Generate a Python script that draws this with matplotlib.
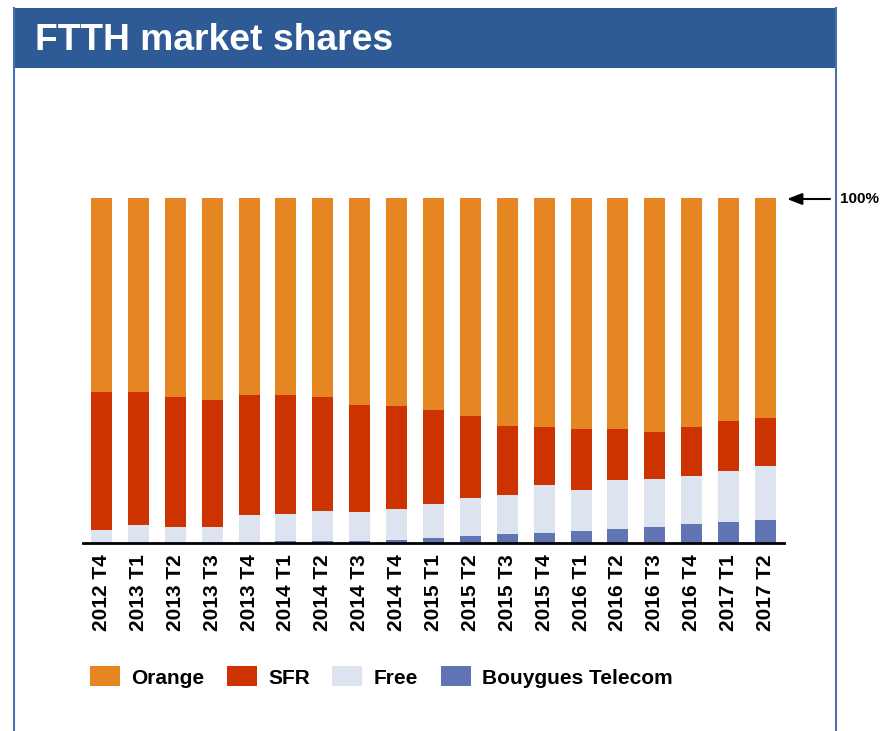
import matplotlib
matplotlib.use("Agg")
import matplotlib.pyplot as plt
from matplotlib.patches import Rectangle
from matplotlib.lines import Line2D
import numpy as np

plt.rcParams['font.family'] = ['Liberation Sans', 'DejaVu Sans']

categories = ["2012 T4", "2013 T1", "2013 T2", "2013 T3", "2013 T4",
              "2014 T1", "2014 T2", "2014 T3", "2014 T4", "2015 T1",
              "2015 T2", "2015 T3", "2015 T4", "2016 T1", "2016 T2",
              "2016 T3", "2016 T4", "2017 T1", "2017 T2"]
bouygues = [0.0, 0.0, 0.0, 0.0, 0.0, 0.5, 0.5, 0.5, 0.8, 1.4,
            1.9, 2.5, 2.8, 3.4, 4.0, 4.6, 5.4, 6.0, 6.6]
free = [3.7, 5.1, 4.6, 4.6, 8.0, 7.8, 8.7, 8.4, 9.0, 9.8,
        11.1, 11.3, 13.9, 11.9, 14.2, 13.9, 14.0, 14.8, 15.7]
sfr = [40.0, 38.6, 37.7, 36.8, 34.8, 34.5, 33.1, 31.0, 29.9, 27.3,
       23.8, 20.1, 16.9, 17.7, 14.8, 13.6, 14.2, 14.5, 13.9]
orange = [56.3, 56.3, 57.7, 58.6, 57.2, 57.2, 57.7, 60.1, 60.3, 61.5,
          63.2, 66.1, 66.4, 67.0, 67.0, 67.9, 66.4, 64.7, 63.8]

series_names = ["Orange", "SFR", "Free", "Bouygues Telecom"]
colors = {"Orange": "#E68622", "SFR": "#CC3300", "Free": "#DEE4EF",
          "Bouygues Telecom": "#6175B5"}

W, H = 892, 731
fig = plt.figure(figsize=(W / 100, H / 100), dpi=100)

# header band
header_blue = "#2E5A96"
fig.patches.append(Rectangle((14 / W, 1 - 68 / H), (836 - 14) / W, 60 / H,
                             transform=fig.transFigure, facecolor=header_blue,
                             edgecolor='none', zorder=0))
for xp in (14, 836):
    fig.lines.append(Line2D([xp / W, xp / W], [0, 1 - 8 / H],
                            transform=fig.transFigure, color="#4A6FB0", lw=1.5))
fig.text(35 / W, 1 - 41 / H, "FTTH market shares", color="white",
         fontsize=26.8, fontweight="bold", va="center", ha="left")

ax = fig.add_axes([83 / W, 1 - 542.7 / H, 701 / W, 344.7 / H])
x = np.arange(len(categories))
bw = 0.57
b = np.array(bouygues)
f = np.array(free)
s = np.array(sfr)
o = np.array(orange)
h_b = ax.bar(x, b, bw, color=colors["Bouygues Telecom"], label="Bouygues Telecom")
h_f = ax.bar(x, f, bw, bottom=b, color=colors["Free"], label="Free")
h_s = ax.bar(x, s, bw, bottom=b + f, color=colors["SFR"], label="SFR")
h_o = ax.bar(x, o, bw, bottom=b + f + s, color=colors["Orange"], label="Orange")

ax.set_xlim(-0.5, len(categories) - 0.5)
ax.set_ylim(0, 100)
for sp in ("top", "right", "left"):
    ax.spines[sp].set_visible(False)
ax.spines["bottom"].set_color("black")
ax.spines["bottom"].set_linewidth(2)
ax.set_yticks([])
ax.set_xticks(x)
ax.set_xticklabels(categories, rotation=90, fontsize=15, fontweight="bold")
ax.tick_params(axis="x", length=0, pad=8.5)

# 100% marker
ax.annotate("", xy=(787 / W, 1 - 199 / H), xytext=(830 / W, 1 - 199 / H),
            xycoords="figure fraction", textcoords="figure fraction",
            arrowprops=dict(arrowstyle="-|>,head_length=0.9,head_width=0.35",
                            color="black", lw=1.5, shrinkA=0, shrinkB=0))
fig.text(840 / W, 1 - 199 / H, "100%", fontsize=11, fontweight="bold",
         va="center", ha="left")

leg = fig.legend([h_o, h_s, h_f, h_b], series_names, ncol=4,
                 loc="center left", bbox_to_anchor=(90 / W, 1 - 677 / H),
                 frameon=False, prop=dict(size=15, weight="bold"),
                 handlelength=1.44, handleheight=1.1, handletextpad=0.55,
                 columnspacing=1.07, borderpad=0, borderaxespad=0)

fig.savefig("out.png", dpi=100)
